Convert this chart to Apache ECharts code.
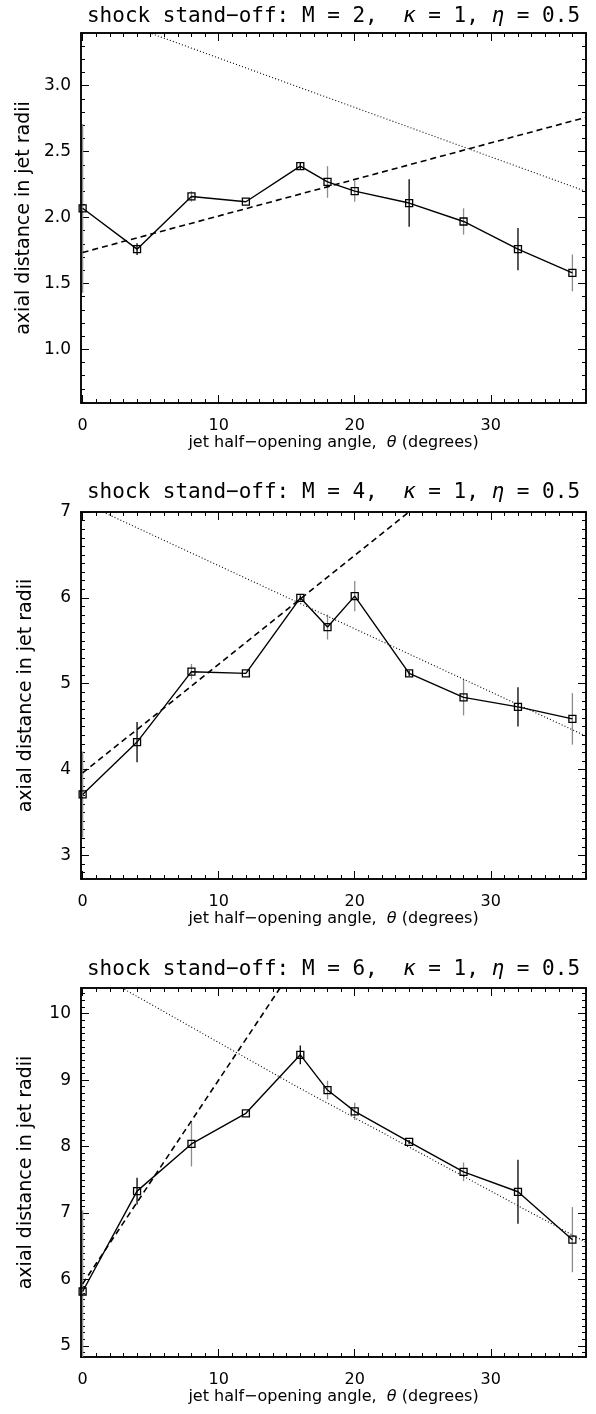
<!DOCTYPE html>
<html><head><meta charset="utf-8">
<script src="https://cdn.jsdelivr.net/npm/echarts@6/dist/echarts.min.js"></script>
<style>html,body{margin:0;padding:0;background:#fff}#c{width:596px;height:1414px}</style>
</head><body><div id="c"></div>
<script>
// ---- data ----
const angles = [0, 4, 8, 12, 16, 18, 20, 24, 28, 32, 36];
const standoffM2 = [2.07, 1.76, 2.16, 2.12, 2.39, 2.27, 2.20, 2.11, 1.97, 1.76, 1.58];
const errM2      = [0.64, 0.045, 0.04, 0, 0.03, 0.12, 0.08, 0.18, 0.10, 0.16, 0.14];
const standoffM4 = [3.71, 4.32, 5.14, 5.12, 6.00, 5.66, 6.02, 5.12, 4.84, 4.73, 4.59];
const errM4      = [0.50, 0.235, 0.09, 0, 0.03, 0.145, 0.175, 0.03, 0.21, 0.23, 0.30];
const standoffM6 = [5.82, 7.33, 8.04, 8.50, 9.38, 8.85, 8.53, 8.07, 7.62, 7.32, 6.60];
const errM6      = [1.22, 0.20, 0.34, 0, 0.14, 0.14, 0.13, 0.03, 0.14, 0.48, 0.49];
// model curves [angle, distance]
const dashedM2 = [[0, 1.735], [37, 2.76]];
const dottedM2 = [[0, 3.585], [37, 2.198]];
const dashedM4 = [[0, 3.96], [37, 8.65]];
const dottedM4 = [[0, 7.11], [37, 4.39]];
const dashedM6 = [[0, 5.935], [37, 17.28]];
const dottedM6 = [[0, 10.72], [15.67, 8.91], [37, 6.56]];
const greyErrAngles = [0, 8, 18, 20, 28, 36];
// ticks
const xTicks = [0, 10, 20, 30];
const yTicksM2 = [1.0, 1.5, 2.0, 2.5, 3.0];
const yTicksM4 = [3, 4, 5, 6, 7];
const yTicksM6 = [5, 6, 7, 8, 9, 10];
const titles = [
  'shock stand\u2212off: M = 2,  {i|\u03ba} = 1, {i|\u03b7} = 0.5',
  'shock stand\u2212off: M = 4,  {i|\u03ba} = 1, {i|\u03b7} = 0.5',
  'shock stand\u2212off: M = 6,  {i|\u03ba} = 1, {i|\u03b7} = 0.5'
];
const xName = 'jet half\u2212opening angle,  {i|\u03b8} (degrees)';
const yName = 'axial distance in jet radii';

// ---- layout ----
const FONT = 'DejaVu Sans';
const TFONT = 'DejaVu Sans Mono';
const X_MIN = -0.12, X_MAX = 37.0;
const panels = [
  {vals: standoffM2, err: errM2, dashed: dashedM2, dotted: dottedM2, yTicks: yTicksM2, yMin: 0.593, yMax: 3.40, dec: 1, top: 33, height: 370, titleY: 17},
  {vals: standoffM4, err: errM4, dashed: dashedM4, dotted: dottedM4, yTicks: yTicksM4, yMin: 2.725, yMax: 7.0, dec: 0, top: 512, height: 367, titleY: 493},
  {vals: standoffM6, err: errM6, dashed: dashedM6, dotted: dottedM6, yTicks: yTicksM6, yMin: 4.835, yMax: 10.385, dec: 0, top: 988, height: 369, titleY: 970}
];
const GRID_LEFT = 81, GRID_W = 505;

function steps(a, b, s) {
  const out = [];
  for (let v = Math.ceil(a / s - 1e-9); v * s <= b + 1e-9; v++) out.push(Math.round(v * s * 1000) / 1000);
  return out;
}
const xMinor = steps(0, X_MAX, 1);

const grids = [], xAxes = [], yAxes = [], series = [], graphics = [];
panels.forEach((p, i) => {
  grids.push({left: GRID_LEFT, top: p.top, width: GRID_W, height: p.height});
  const yMinor = steps(p.yMin, p.yMax, 0.1);
  const axLine = {show: true, onZero: false, lineStyle: {color: '#000', width: 1.5}};
  ['bottom', 'top'].forEach(pos => {
    [true, false].forEach(major => {
      xAxes.push({
        gridIndex: i, type: 'value', position: pos, min: X_MIN, max: X_MAX,
        axisLine: axLine,
        axisTick: {show: true, inside: true, length: major ? 8 : 4, customValues: major ? xTicks : xMinor, lineStyle: {color: '#000', width: 1}},
        axisLabel: {show: major && pos === 'bottom', customValues: xTicks, margin: 15, color: '#000', fontFamily: FONT, fontSize: 16},
        splitLine: {show: false},
        name: (major && pos === 'bottom') ? xName : '',
        nameLocation: 'middle', nameGap: 31,
        nameTextStyle: {color: '#000', fontFamily: FONT, fontSize: 16, rich: {i: {fontStyle: 'italic', fontFamily: FONT, fontSize: 16, color: '#000'}}}
      });
    });
  });
  ['left', 'right'].forEach(pos => {
    [true, false].forEach(major => {
      yAxes.push({
        gridIndex: i, type: 'value', position: pos, min: p.yMin, max: p.yMax,
        axisLine: axLine,
        axisTick: {show: true, inside: true, length: major ? 8 : 4, customValues: major ? p.yTicks : yMinor, lineStyle: {color: '#000', width: 1}},
        axisLabel: {show: major && pos === 'left', customValues: p.yTicks, margin: 10, color: '#000', fontFamily: FONT, fontSize: 17,
          formatter: v => Number(v).toFixed(p.dec)},
        splitLine: {show: false},
        name: (major && pos === 'left') ? yName : '',
        nameLocation: 'middle', nameGap: 45, nameRotate: 90,
        nameTextStyle: {color: '#000', fontFamily: FONT, fontSize: 19}
      });
    });
  });
  const xi = 4 * i, yi = 4 * i;
  const errData = angles.map((a, k) => [a, p.vals[k], p.err[k], greyErrAngles.includes(a) ? 1 : 0]).filter(d => d[2] > 0);
  series.push({
    type: 'custom', xAxisIndex: xi, yAxisIndex: yi, clip: true, silent: true,
    data: errData,
    renderItem: (params, api) => {
      const x = api.value(0), y = api.value(1), e = api.value(2);
      const lo = api.coord([x, y - e]), hi = api.coord([x, y + e]);
      return {type: 'line', shape: {x1: lo[0], y1: lo[1], x2: hi[0], y2: hi[1]},
        style: {stroke: api.value(3) ? '#8c8c8c' : '#000', lineWidth: 1.3}};
    }
  });
  series.push({
    type: 'line', xAxisIndex: xi, yAxisIndex: yi, data: p.dashed, symbol: 'none', silent: true,
    lineStyle: {color: '#000', width: 1.6, type: [6, 4]}
  });
  series.push({
    type: 'line', xAxisIndex: xi, yAxisIndex: yi, data: p.dotted, symbol: 'none', silent: true,
    lineStyle: {color: '#000', width: 1.1, type: [1, 2.2]}
  });
  series.push({
    type: 'line', xAxisIndex: xi, yAxisIndex: yi, data: angles.map((a, k) => [a, p.vals[k]]),
    symbol: 'rect', symbolSize: 7, silent: true,
    lineStyle: {color: '#000', width: 1.4},
    itemStyle: {color: 'rgba(255,255,255,0)', borderColor: '#000', borderWidth: 1.3}
  });
  graphics.push({
    type: 'text', x: GRID_LEFT + GRID_W / 2, y: p.titleY,
    style: {text: titles[i], font: '21px "' + TFONT + '"', fill: '#000', align: 'center', verticalAlign: 'middle',
      textAlign: 'center', textVerticalAlign: 'middle',
      rich: {i: {fontStyle: 'italic', fontSize: 21, fontFamily: TFONT, fill: '#000'}}}
  });
});

const chart = echarts.init(document.getElementById('c'), null, {renderer: 'canvas'});
chart.setOption({
  animation: false,
  backgroundColor: '#fff',
  grid: grids, xAxis: xAxes, yAxis: yAxes, series: series, graphic: graphics
});
</script></body></html>
